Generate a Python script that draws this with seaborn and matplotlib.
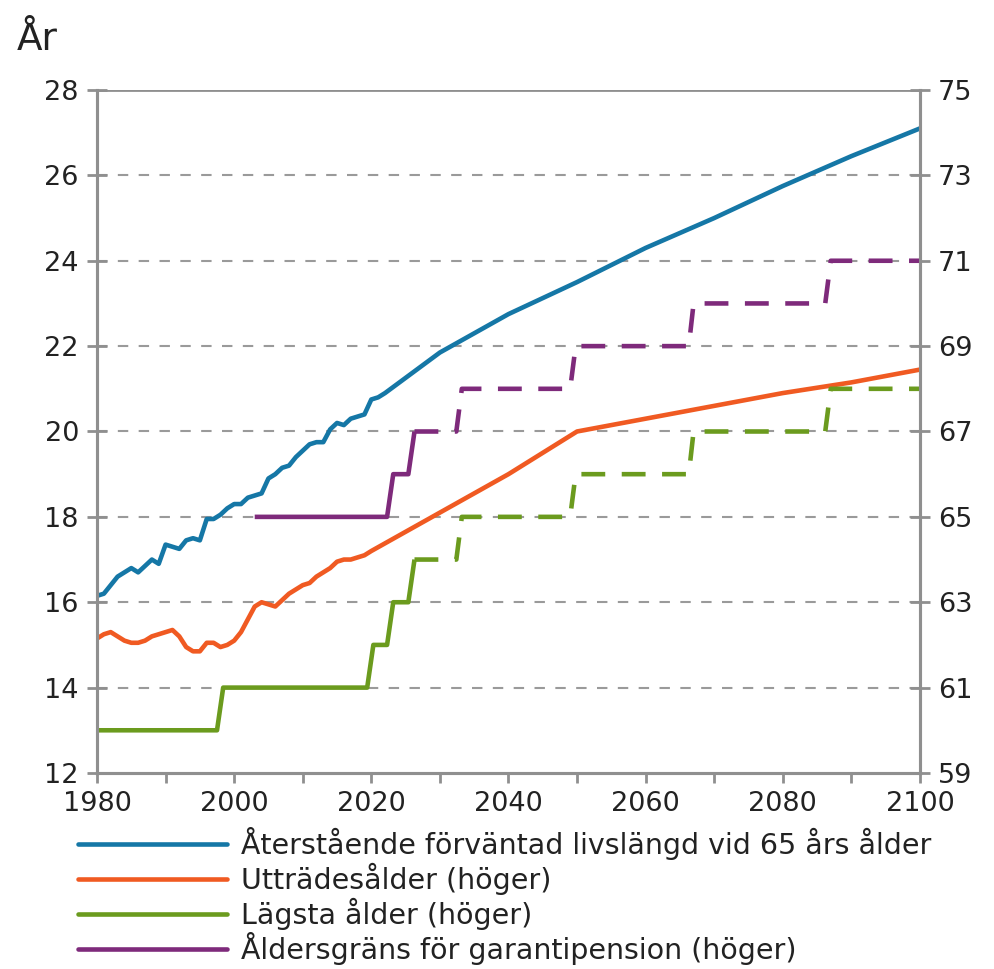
import matplotlib
matplotlib.use("Agg")
import matplotlib.pyplot as plt
import seaborn as sns
import pandas as pd
from matplotlib.lines import Line2D

sns.set_theme(style="white")
plt.rcParams['font.family'] = ['DejaVu Sans']

# ---- data ----
blue_years = [1980, 1981, 1982, 1983, 1984, 1985, 1986, 1987, 1988, 1989,
              1990, 1991, 1992, 1993, 1994, 1995, 1996, 1997, 1998, 1999,
              2000, 2001, 2002, 2003, 2004, 2005, 2006, 2007, 2008, 2009,
              2010, 2011, 2012, 2013, 2014, 2015, 2016, 2017, 2018, 2019,
              2020, 2021, 2022, 2030, 2040, 2050, 2060, 2070, 2080, 2090, 2100]
blue_vals = [16.15, 16.2, 16.4, 16.6, 16.7, 16.8, 16.7, 16.85, 17.0, 16.9,
             17.35, 17.3, 17.25, 17.45, 17.5, 17.45, 17.95, 17.95, 18.05, 18.2,
             18.3, 18.3, 18.45, 18.5, 18.55, 18.9, 19.0, 19.15, 19.2, 19.4,
             19.55, 19.7, 19.75, 19.75, 20.05, 20.2, 20.15, 20.3, 20.35, 20.4,
             20.75, 20.8, 20.9, 21.85, 22.75, 23.5, 24.3, 25.0, 25.75, 26.45, 27.1]

orange_years = [1980, 1981, 1982, 1983, 1984, 1985, 1986, 1987, 1988, 1989,
                1990, 1991, 1992, 1993, 1994, 1995, 1996, 1997, 1998, 1999,
                2000, 2001, 2002, 2003, 2004, 2005, 2006, 2007, 2008, 2009,
                2010, 2011, 2012, 2013, 2014, 2015, 2016, 2017, 2018, 2019,
                2020, 2030, 2040, 2050, 2060, 2070, 2080, 2090, 2100]
orange_vals = [62.15, 62.25, 62.3, 62.2, 62.1, 62.05, 62.05, 62.1, 62.2, 62.25,
               62.3, 62.35, 62.2, 61.95, 61.85, 61.85, 62.05, 62.05, 61.95, 62.0,
               62.1, 62.3, 62.6, 62.9, 63.0, 62.95, 62.9, 63.05, 63.2, 63.3,
               63.4, 63.45, 63.6, 63.7, 63.8, 63.95, 64.0, 64.0, 64.05, 64.1,
               64.2, 65.1, 66.0, 67.0, 67.3, 67.6, 67.9, 68.15, 68.45]

green_solid_years = [1980, 1997.5, 1998.4, 2019.4, 2020.3, 2022.3, 2023.2, 2025.4, 2026.3]
green_solid_vals = [60, 60, 61, 61, 62, 62, 63, 63, 64]
green_dash_years = [2026.3, 2032.4, 2033.2, 2049.0, 2049.8, 2066.3, 2067.0, 2086.2, 2087.0, 2100]
green_dash_vals = [64, 64, 65, 65, 66, 66, 67, 67, 68, 68]

purple_solid_years = [2003.0, 2022.3, 2023.2, 2025.4, 2026.3]
purple_solid_vals = [65, 65, 66, 66, 67]
purple_dash_years = [2026.3, 2032.4, 2033.2, 2049.0, 2049.8, 2066.3, 2067.0, 2086.2, 2087.0, 2100]
purple_dash_vals = [67, 67, 68, 68, 69, 69, 70, 70, 71, 71]

labels = ["Återstående förväntad livslängd vid 65 års ålder",
          "Utträdesålder (höger)",
          "Lägsta ålder (höger)",
          "Åldersgräns för garantipension (höger)"]
colors = ["#1577a6", "#f05a22", "#6b9b1e", "#7e2a7b"]

left_ticks = [12, 14, 16, 18, 20, 22, 24, 26, 28]
right_ticks = [59, 61, 63, 65, 67, 69, 71, 73, 75]
x_ticks = [1980, 2000, 2020, 2040, 2060, 2080, 2100]

# ---- figure ----
fig = plt.figure(figsize=(9.95, 9.69), dpi=100)
ax = fig.add_axes([0.0975, 0.2023, 0.827, 0.7048])
ax2 = ax.twinx()

lw = 3.3
spine_c = "#8f8f8f"
grid_c = "#9a9a9a"

for y in left_ticks[1:-1]:
    ax.axhline(y, color=grid_c, lw=1.5, dashes=(5, 5), zorder=0)
ax.axhline(28, color=spine_c, lw=2, zorder=0)

sns.lineplot(x=blue_years, y=blue_vals, ax=ax, color=colors[0], lw=lw)
sns.lineplot(x=orange_years, y=orange_vals, ax=ax2, color=colors[1], lw=lw)
sns.lineplot(x=green_solid_years, y=green_solid_vals, ax=ax2, color=colors[2], lw=lw)
sns.lineplot(x=green_dash_years, y=green_dash_vals, ax=ax2, color=colors[2], lw=lw)
sns.lineplot(x=purple_solid_years, y=purple_solid_vals, ax=ax2, color=colors[3], lw=lw)
sns.lineplot(x=purple_dash_years, y=purple_dash_vals, ax=ax2, color=colors[3], lw=lw)
# projected step lines dashed
ax2.lines[2].set_dashes((5.2, 3.6))
ax2.lines[4].set_dashes((5.2, 3.6))
for ln in ax2.lines:
    ln.set_solid_capstyle('butt')
    ln.set_dash_capstyle('butt')

ax.set_xlim(1980, 2100)
ax.set_ylim(12, 28)
ax2.set_ylim(59, 75)
ax.set_yticks(left_ticks)
ax2.set_yticks(right_ticks)
ax.set_xticks(x_ticks)
ax.set_xticks(list(range(1980, 2101, 10)), minor=True)
ax.set_xlabel("")
ax.set_ylabel("")
ax2.set_ylabel("")

fs = 19.5
ax.tick_params(axis='y', which='both', direction='inout', length=14, width=2,
               color=spine_c, labelsize=fs, labelcolor="#222222", pad=6, left=True)
ax.tick_params(axis='x', which='both', direction='out', length=7, width=2,
               color=spine_c, labelsize=fs, labelcolor="#222222", pad=6, bottom=True)
ax2.tick_params(axis='y', direction='inout', length=14, width=2,
                color=spine_c, labelsize=fs, labelcolor="#222222", pad=6, right=True)

for a in (ax, ax2):
    a.spines['top'].set_visible(False)
    for s in ['left', 'right', 'bottom']:
        a.spines[s].set_color(spine_c)
        a.spines[s].set_linewidth(2.2)

fig.text(0.017, 0.948, "År", fontsize=27, color="#222222", ha='left', va='baseline')

handles = [Line2D([0], [0], color=c, lw=lw) for c in colors]
fig.legend(handles, labels, loc='upper left', bbox_to_anchor=(0.078, 0.147),
           frameon=False, fontsize=20.5, handlelength=5.25, handletextpad=0.5,
           labelspacing=0.1, borderaxespad=0, borderpad=0, labelcolor="#222222")

fig.savefig("out.png", dpi=100)
